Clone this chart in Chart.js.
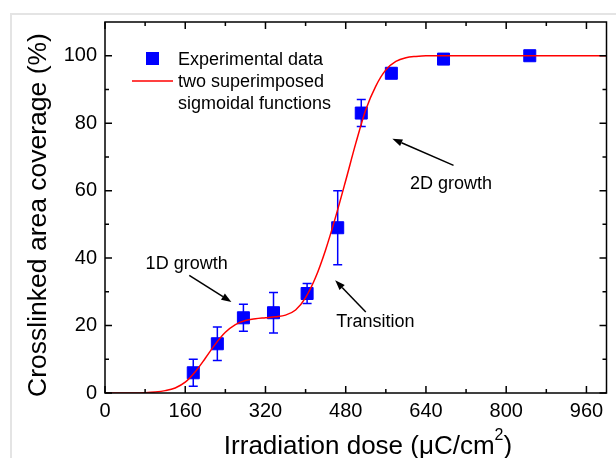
<!DOCTYPE html>
<html>
<head>
<meta charset="utf-8">
<title>Crosslinked area coverage</title>
<script src="https://cdn.jsdelivr.net/npm/chart.js"></script>
<style>
  html, body { margin: 0; padding: 0; background: #fff; }
</style>
</head>
<body>
<canvas id="myChart" width="616" height="458"></canvas>
<script>
// experimental points (dose in uC/cm2, coverage in %, +/- error)
const doses    = [176, 224, 276, 336, 403, 464, 511, 571, 675, 847];
const coverage = [6.0, 14.6, 22.3, 23.8, 29.5, 49.0, 83.0, 94.8, 99.0, 100];
const errBars  = [4.0, 5.0, 4.0, 6.0, 3.0, 11.0, 4.0, 1.5, 0.5, 0];

// fit curve
const fitX = [0, 60, 80, 100, 120, 140, 160, 180, 200, 220, 240, 260, 280, 300, 320, 340, 360, 380,
              400, 420, 440, 460, 480, 500, 520, 540, 560, 580, 600, 620, 640, 680, 760, 880, 1000];
const fitY = [0, 0, 0.1, 0.3, 0.7, 1.5, 3.2, 6.3, 10.3, 14.5, 18.0, 20.3, 21.5, 22.0, 22.3, 22.6, 23.1, 24.6,
              28.3, 34.3, 42.5, 52.3, 63.0, 74.0, 84.0, 91.0, 95.8, 98.3, 99.4, 99.8, 100, 100, 100, 100, 100];

// tick labels
const xTickVals = [0, 160, 320, 480, 640, 800, 960];
const yTickVals = [0, 20, 40, 60, 80, 100];

// annotations: [text, textX, textY, tailX, tailY, headX, headY] in data units
const notes = [
  ['1D growth', 81, 36.9, 168, 34.9, 252, 27.0],
  ['Transition', 461, 19.5, 520, 24.0, 459, 33.4],
  ['2D growth', 608, 60.4, 695, 67.5, 573, 75.4]
];

const FONT = '"Liberation Sans", Arial, sans-serif';

function arrow(c, x1, y1, x2, y2) {
  const a = Math.atan2(y2 - y1, x2 - x1);
  const L = 10, W = 3.6;
  const bx = x2 - L * Math.cos(a), by = y2 - L * Math.sin(a);
  c.beginPath(); c.moveTo(x1, y1); c.lineTo(bx, by); c.stroke();
  c.beginPath();
  c.moveTo(x2, y2);
  c.lineTo(bx + W * Math.sin(a), by - W * Math.cos(a));
  c.lineTo(bx - W * Math.sin(a), by + W * Math.cos(a));
  c.closePath(); c.fill();
}

const decor = {
  id: 'decor',
  beforeDraw(chart) {
    const c = chart.ctx;
    c.save();
    c.fillStyle = '#fff';
    c.fillRect(0, 0, chart.width, chart.height);
    c.strokeStyle = '#e4e4e4';
    c.lineWidth = 2;
    c.beginPath(); c.moveTo(11, chart.height); c.lineTo(11, 14); c.lineTo(chart.width, 14); c.stroke();
    c.restore();
  },
  beforeDatasetsDraw(chart) {
    const {x, y} = chart.scales, c = chart.ctx;
    c.save();
    c.strokeStyle = '#0000ff';
    c.lineWidth = 1.5;
    doses.forEach((d, i) => {
      const e = errBars[i];
      if (!e) return;
      const px = x.getPixelForValue(d);
      const t = y.getPixelForValue(coverage[i] + e), b = y.getPixelForValue(coverage[i] - e);
      c.beginPath();
      c.moveTo(px, t); c.lineTo(px, b);
      c.moveTo(px - 4.5, t); c.lineTo(px + 4.5, t);
      c.moveTo(px - 4.5, b); c.lineTo(px + 4.5, b);
      c.stroke();
    });
    c.restore();
  },
  afterDraw(chart) {
    const {x, y} = chart.scales, c = chart.ctx, a = chart.chartArea;
    c.save();
    c.strokeStyle = '#000';
    c.lineWidth = 1.5;
    // frame
    c.strokeRect(a.left, a.top, a.right - a.left, a.bottom - a.top);
    // inward ticks on all four sides, minors halfway between majors
    c.beginPath();
    const xs = xTickVals.map(v => [v, 7]);
    xTickVals.forEach(v => xs.push([v + 80, 4]));
    xs.forEach(([v, len]) => {
      const p = x.getPixelForValue(v);
      if (p > a.right - 1) return;
      c.moveTo(p, a.bottom); c.lineTo(p, a.bottom - len);
      c.moveTo(p, a.top); c.lineTo(p, a.top + len);
    });
    const ys = yTickVals.map(v => [v, 7]);
    yTickVals.forEach(v => ys.push([v + 10, 4]));
    ys.forEach(([v, len]) => {
      const p = y.getPixelForValue(v);
      if (p < a.top + 1) return;
      c.moveTo(a.left, p); c.lineTo(a.left + len, p);
      c.moveTo(a.right, p); c.lineTo(a.right - len, p);
    });
    c.stroke();

    // legend
    c.fillStyle = '#0000ff';
    c.fillRect(146, 52, 13, 13);
    c.strokeStyle = '#ff0000';
    c.beginPath(); c.moveTo(132, 81); c.lineTo(173, 81); c.stroke();
    c.fillStyle = '#000';
    c.font = '18px ' + FONT;
    c.textAlign = 'left';
    c.textBaseline = 'alphabetic';
    c.fillText('Experimental data', 178, 65);
    c.fillText('two superimposed', 178, 87);
    c.fillText('sigmoidal functions', 178, 109);

    // annotations
    c.strokeStyle = '#000';
    c.lineWidth = 1.5;
    notes.forEach(n => {
      c.fillText(n[0], x.getPixelForValue(n[1]), y.getPixelForValue(n[2]));
      arrow(c, x.getPixelForValue(n[3]), y.getPixelForValue(n[4]),
               x.getPixelForValue(n[5]), y.getPixelForValue(n[6]));
    });

    // axis titles
    c.font = '26.5px ' + FONT;
    c.save();
    c.translate(46, 215);
    c.rotate(-Math.PI / 2);
    c.textAlign = 'center';
    c.fillText('Crosslinked area coverage (%)', 0, 0);
    c.restore();

    const s1 = 'Irradiation dose (\u03BCC/cm', s2 = '2', s3 = ')';
    c.font = '26px ' + FONT;
    const w1 = c.measureText(s1).width, w3 = c.measureText(s3).width;
    c.font = '16px ' + FONT;
    const w2 = c.measureText(s2).width;
    let sx = 368 - (w1 + w2 + w3) / 2;
    c.font = '26px ' + FONT;
    c.fillText(s1, sx, 454);
    c.font = '16px ' + FONT;
    c.fillText(s2, sx + w1, 440);
    c.font = '26px ' + FONT;
    c.fillText(s3, sx + w1 + w2, 454);
    c.restore();
  }
};

new Chart(document.getElementById('myChart'), {
  type: 'scatter',
  data: {
    datasets: [
      {
        type: 'line',
        label: 'two superimposed sigmoidal functions',
        data: fitX.map((v, i) => ({x: v, y: fitY[i]})),
        borderColor: '#ff0000',
        borderWidth: 1.5,
        pointRadius: 0,
        fill: false,
        cubicInterpolationMode: 'monotone',
        order: 0
      },
      {
        label: 'Experimental data',
        data: doses.map((v, i) => ({x: v, y: coverage[i]})),
        pointStyle: 'rect',
        pointRadius: 8.5,
        pointBorderWidth: 1,
        backgroundColor: '#0000ff',
        borderColor: '#0000ff',
        order: 1
      }
    ]
  },
  options: {
    responsive: false,
    animation: false,
    devicePixelRatio: 1,
    layout: { padding: { top: 22, right: 5, left: 0, bottom: 0 } },
    plugins: { legend: { display: false }, tooltip: { enabled: false } },
    scales: {
      x: {
        type: 'linear', min: 0, max: 1000,
        afterBuildTicks: s => { s.ticks = xTickVals.map(v => ({value: v})); },
        afterFit: s => { s.height = 65; s.paddingLeft = 0; s.paddingRight = 0; },
        grid: { display: false, drawTicks: false },
        border: { display: false },
        ticks: { padding: 6, color: '#000', font: { family: FONT, size: 20 }, maxRotation: 0 }
      },
      y: {
        type: 'linear', min: 0, max: 110,
        afterBuildTicks: s => { s.ticks = yTickVals.map(v => ({value: v})); },
        afterFit: s => { s.width = 105; s.paddingTop = 0; s.paddingBottom = 0; },
        grid: { display: false, drawTicks: false },
        border: { display: false },
        ticks: { padding: 8, color: '#000', font: { family: FONT, size: 20 } }
      }
    }
  },
  plugins: [decor]
});
</script>
</body>
</html>
